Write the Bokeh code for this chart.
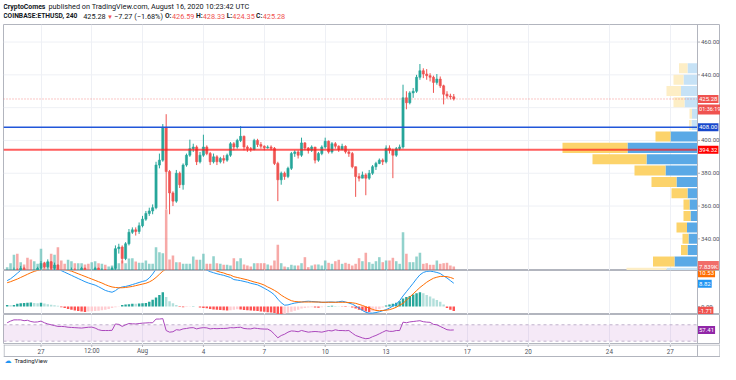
import pandas as pd
from bokeh.plotting import figure
from bokeh.models import (ColumnDataSource, Range1d, FixedTicker, Label, Span, BoxAnnotation)
from bokeh.layouts import column
from bokeh.embed import file_html
from bokeh.resources import INLINE
from bokeh.core.properties import value

FONT = "Roboto"

# ---------------- data (4h candles, COINBASE:ETHUSD) ----------------
start_time = "2020-07-25 08:00"
first_open = 315
close = [317, 318, 321, 319, 322, 320, 318, 317, 319, 322,
         325, 323, 326, 322, 324, 320, 317, 316, 318, 321,
         318, 320, 322, 319, 318, 320, 322, 319, 321, 317,
         318, 322, 334, 335, 328, 337, 344, 345.5, 344.5, 348,
         352, 355.5, 357, 359, 385, 388, 408, 381, 368, 363,
         380, 373, 385, 391, 395, 396, 387, 391, 396, 392,
         387, 390, 387, 389, 388, 391, 398, 396, 400, 402.5,
         396, 395, 394.5, 400, 397.5, 396.5, 395.5, 396, 395.2, 386,
         376, 380, 378, 383, 392, 393, 391, 398.5, 395.4, 394,
         396, 388, 392, 396, 399.5, 393, 398, 396.5, 394.5, 396.4,
         393, 392, 384, 378, 377, 379, 377, 380, 384, 386,
         388, 387, 395.4, 394, 391, 395, 396, 426, 423, 429,
         430, 438.5, 442.5, 440.5, 439.5, 438.5, 435.4, 437.4, 433.3, 428.2,
         427.1, 426.59, 425.28]
high = [318.5, 320, 322.5, 322, 323.5, 323, 321, 319, 320.5, 323,
        326.5, 326, 327.5, 326.5, 325.5, 324.5, 321, 318.5, 319.5, 322.5,
        322, 321, 323, 322.5, 320, 321, 323, 322.5, 322, 321.5,
        319.5, 323, 336, 337, 336, 338, 346, 347, 347, 350,
        354, 357, 359, 361, 387, 392, 410, 416, 382, 369,
        382, 381, 386, 392, 400.5, 398, 397, 393, 403.5, 397,
        393, 392, 391, 390, 391, 392, 399, 399, 401, 408.7,
        403, 397, 396, 401, 401, 399, 397, 397, 397, 396,
        387, 381, 381, 384, 393, 394, 394, 401.7, 399, 396,
        397, 396, 393, 397, 401.7, 400, 399, 399, 397, 398,
        397, 394, 393, 384, 380, 381, 380, 382, 385, 387,
        389, 389, 397, 397, 395, 396, 397.5, 434, 430, 430,
        432, 440, 446.6, 444, 443.5, 441, 439.5, 440.5, 439, 434,
        430, 428.5, 428.33]
low = [313, 316, 317, 317.5, 318, 319, 316.5, 315, 316, 318,
       321, 322, 322, 321, 321, 319, 315, 314, 315, 317,
       317, 317, 319, 318, 316, 317, 319, 318, 318, 316,
       316, 317, 320, 331, 325, 327, 336, 343, 342, 343,
       347, 351, 354, 355, 358, 383, 387, 358, 355, 360,
       362, 371, 370, 384, 390, 393, 385, 386, 390, 391,
       385, 386, 385, 386, 386, 387, 390, 394, 395, 399,
       394, 393, 393, 394, 396, 395, 394, 395, 394, 385,
       363, 373, 376, 377, 382, 390, 389, 390, 394, 392,
       393, 386, 387, 391, 395, 392, 392, 395, 393, 394,
       392, 390, 383, 365.6, 375, 377, 366.6, 376, 379, 382,
       385.5, 385, 386, 392, 377, 390, 394, 395, 419, 422,
       426, 429, 437, 438, 437, 436, 429, 434, 432, 422,
       425.5, 425, 424.35]
volume_k = [6.5, 14.3, 30.8, 32.7, 16.3, 11.8, 24.9, 21.6, 18.2, 13.1,
            42.5, 16.3, 16.3, 32.7, 30.8, 45.7, 19.6, 13.1, 21.0, 18.2,
            14.3, 14.3, 14.3, 11.8, 13.1, 16.3, 18.2, 14.3, 13.1, 11.2,
            7.8, 9.8, 42.5, 14.3, 19.6, 14.3, 23.5, 24.1, 17.6, 15.1,
            15.1, 19.6, 13.1, 13.1, 45.7, 35.9, 33.9, 119.6, 21.6, 29.4,
            16.3, 16.3, 13.1, 13.1, 13.1, 27.4, 21.0, 21.0, 32.7, 13.1,
            13.1, 28.0, 14.3, 13.1, 11.2, 11.2, 9.8, 24.1, 18.2, 24.1,
            11.8, 9.8, 7.8, 14.3, 14.3, 14.3, 14.3, 11.8, 9.8, 19.6,
            50.4, 14.3, 7.8, 6.5, 11.2, 9.8, 9.8, 14.3, 26.1, 6.5,
            9.8, 11.8, 11.8, 9.8, 19.6, 15.1, 13.1, 18.2, 21.0, 13.1,
            15.1, 13.1, 9.8, 13.1, 24.1, 18.2, 34.7, 16.3, 13.1, 18.2,
            26.1, 16.3, 19.6, 19.6, 24.9, 18.2, 13.1, 75.1, 32.7, 16.3,
            16.3, 27.4, 34.7, 13.1, 14.3, 11.2, 11.2, 19.6, 13.1, 14.3,
            15.1, 9.8, 7.839]
macd_line = [9.8, 10.5, 11.5, 12.6, 13.7, 14.5, 15.2, 15.7, 16.0, 16.2,
             16.4, 16.4, 16.3, 16.1, 15.6, 14.8, 13.6, 13.0, 12.4, 11.8,
             11.2, 10.6, 10.0, 9.4, 8.9, 8.5, 8.1, 7.5, 6.8, 6.1,
             5.7, 5.4, 6.0, 7.0, 7.4, 7.6, 7.9, 8.3, 8.7, 9.1,
             9.5, 9.8, 10.8, 12.3, 14.2, 15.5, 16.5, 16.5, 16.8, 16.9,
             17.0, 16.9, 16.7, 16.5, 16.3, 16.0, 15.6, 15.0, 14.4, 13.8,
             13.2, 12.8, 12.4, 12.1, 11.8, 11.4, 11.0, 10.2, 10.0, 9.8,
             9.5, 9.2, 8.8, 8.5, 8.2, 7.6, 6.9, 6.2, 5.4, 4.4,
             2.8, 1.4, 0.5, 0.6, 1.0, 1.3, 1.5, 1.7, 1.9, 2.0,
             1.9, 1.8, 1.7, 1.6, 1.6, 1.7, 1.7, 1.6, 1.8, 2.0,
             1.7, 1.3, 0.9, 0.2, -0.6, -1.5, -2.2, -2.5, -2.5, -2.3,
             -2.0, -1.6, -1.2, -0.6, 0.2, 0.9, 2.2, 4.0, 5.6, 7.2,
             8.8, 10.5, 12.0, 12.9, 13.3, 13.4, 13.2, 12.9, 12.5, 11.6,
             10.8, 9.8, 8.82]
signal_line = [9.0, 9.4, 9.9, 10.4, 11.0, 11.6, 12.2, 12.8, 13.3, 13.7,
               14.0, 14.3, 14.5, 14.6, 14.6, 14.5, 14.3, 14.0, 13.7, 13.4,
               12.9, 12.4, 11.9, 11.4, 10.9, 10.4, 9.9, 9.4, 8.9, 8.3,
               7.8, 7.4, 7.2, 7.1, 7.1, 7.2, 7.4, 7.6, 7.9, 8.2,
               8.5, 8.8, 9.3, 10.0, 11.0, 12.2, 13.4, 14.2, 14.8, 15.3,
               15.6, 15.8, 15.9, 16.0, 16.0, 16.0, 15.8, 15.6, 15.2, 14.8,
               14.4, 13.9, 13.4, 13.0, 12.7, 12.2, 11.9, 11.3, 11.0, 10.7,
               10.4, 10.1, 9.7, 9.3, 9.0, 8.6, 8.1, 7.4, 6.8, 6.1,
               5.3, 4.3, 3.5, 2.8, 2.2, 1.9, 1.8, 1.7, 1.7, 1.7,
               1.7, 1.7, 1.7, 1.6, 1.6, 1.6, 1.6, 1.6, 1.6, 1.6,
               1.6, 1.5, 1.4, 1.2, 0.8, 0.4, -0.1, -0.6, -1.1, -1.5,
               -1.6, -1.5, -1.4, -1.2, -0.8, -0.3, 0.5, 1.2, 2.4, 3.6,
               4.8, 6.0, 7.2, 8.2, 9.2, 10.0, 10.7, 11.1, 11.4, 11.4,
               11.3, 11.0, 10.53]
histogram = [0.6, 0.5, 0.6, 1.0, 1.2, 1.3, 1.4, 1.5, 1.3, 1.2,
             1.4, 1.1, 0.9, 0.7, 0.5, 0.3, -0.3, -0.6, -0.9, -1.2,
             -1.5, -1.7, -1.9, -2.1, -1.9, -1.8, -1.7, -1.6, -1.4, -1.2,
             -0.9, -0.6, -0.3, -0.1, 0.6, 0.8, 0.9, 1.0, 1.0, 1.1,
             1.2, 1.3, 1.8, 2.6, 3.4, 4.4, 5.4, 3.6, 2.0, 1.2,
             0.6, -0.2, -0.3, -0.2, -0.1, 0.1, 0.0, -0.4, -0.6, -0.7,
             -0.9, -1.1, -1.2, -1.3, -1.4, -1.5, -1.4, -1.2, -1.0, -1.1,
             -1.3, -1.4, -1.5, -1.6, -1.7, -1.9, -2.0, -2.2, -2.3, -2.5,
             -2.8, -2.9, -2.7, -2.4, -2.0, -1.6, -1.2, -0.8, -0.6, -0.4,
             -0.3, -0.4, -0.5, -0.3, -0.1, 0.2, 0.3, 0.2, 0.1, -0.1,
             -0.2, -0.1, -0.4, -0.8, -1.2, -1.5, -1.9, -2.1, -1.8, -1.4,
             -0.9, -0.4, 0.4, 0.8, 1.0, 1.4, 2.0, 3.0, 3.6, 4.0,
             4.5, 5.0, 5.4, 5.0, 4.4, 3.8, 3.0, 2.5, 1.8, 0.8,
             -0.6, -1.2, -1.71]
rsi = [75, 79, 82, 82, 82, 80, 81, 78, 76.5, 77,
       79, 75, 72, 70, 68, 66, 66, 65.5, 64, 63.5,
       63, 62.5, 62, 63, 64, 64.3, 62, 58, 56, 56,
       56, 56.5, 72, 71, 66, 70, 73, 72.4, 72, 73,
       74, 74.5, 75, 75, 84, 84, 85, 56, 52, 53,
       58, 57, 60, 61, 62.6, 63, 60, 62, 63, 62.5,
       60, 61, 60.5, 61, 61, 61.5, 63, 62.6, 63.5, 64,
       61, 60.2, 60, 62, 61, 60, 59.5, 59.5, 55, 47,
       38.2, 43.8, 47, 52, 55, 54.4, 53, 56.1, 54, 52,
       53, 53.6, 53, 52, 54, 56, 55, 57.8, 56, 56,
       55.5, 56, 49.6, 44, 41, 38, 36, 37, 41, 44,
       48, 52, 56, 54, 54, 56, 56, 76.4, 75, 77,
       78, 79, 80, 77.5, 76.5, 76, 71, 70, 66, 62,
       58, 57, 57.41]

# visible-range volume profile (row bottoms, up / down volume in K)
vp_low = [315.8, 322.7, 329.7, 336.6, 343.5, 350.4, 357.4, 364.3, 371.2, 378.2,
          385.1, 392.0, 399.0, 405.9, 412.8, 419.8, 426.7, 433.6, 440.6]
vp_up = [62, 46, 20, 18, 21, 14, 16, 20, 42, 64, 102, 140, 54, 12, 11, 26, 33, 28, 20]
vp_down = [80, 43, 13, 12, 21, 14, 12, 32, 50, 62, 108, 130, 30, 5, 5, 22, 29, 20, 17]
vp_value_area = [False, True, True, True, True, True, True, True, True, True,
                 True, True, True, False, False, False, False, False, False]
vp_row = 6.94

tick_days = [0, 2.5, 5, 8, 11, 14, 17, 21, 24, 28, 31]
tick_labels = ["27", "12:00", "Aug", "4", "7", "10", "13", "17", "20", "24", "27"]
price_ticks = [340, 360, 380, 400, 440, 460]
price_grid = [340, 360, 380, 400, 420, 440, 460]

last_price = 425.28
level_blue = 408.00
level_red = 394.32

# ---------------- derived ----------------
times = pd.date_range(start_time, periods=len(close), freq="4h")
days = ((times - pd.Timestamp("2020-07-27")) / pd.Timedelta(days=1)).tolist()
opens = [first_open] + close[:-1]
GREEN, RED = "#26a69a", "#ef5350"
ccol = [GREEN if c >= o else RED for c, o in zip(close, opens)]
hcol = []
prev = None
for h in histogram:
    if h >= 0:
        hcol.append("#26a69a" if (prev is None or h > prev) else "#b2dfdb")
    else:
        hcol.append("#ff5252" if (prev is None or h < prev) else "#ffcdd2")
    prev = h

src = ColumnDataSource(dict(
    x=days, o=opens, h=high, l=low, c=close,
    top=[max(a, b) for a, b in zip(opens, close)],
    bot=[min(a, b) for a, b in zip(opens, close)],
    col=ccol, vol=volume_k, macd=macd_line, sig=signal_line,
    hist=histogram, hcol=hcol, rsi=rsi))

# ---------------- layout constants ----------------
W = 720
LB = 3                        # left edge of the chart frame
FRAME_W = W - LB
FW = 694                      # frame px of the price-scale boundary
PX_DAY = 20.3
XS = (LB - 40.5) / PX_DAY     # Jul 27 sits 40.5 px from the left
XE = XS + FW / PX_DAY
XEND = XS + FRAME_W / PX_DAY
HDR_H, MAIN_H, MACD_H, RSI_H, FOOT_H = 24, 246, 44, 30, 20
PY0, PY1 = 320.7, 470.7
PPU = MAIN_H / (PY1 - PY0)
BORDER = "#b2b5be"
GRID = "#eef0f5"
LBL = "#50535e"
xr = Range1d(XS, XEND)
TICK_LEN = 2.5 / PX_DAY
TAG_PAD = dict(left=1, right=1, top=2, bottom=2)


def mk(h, yr, outline=BORDER, grid=True):
    p = figure(width=W, height=h, x_range=xr, y_range=yr,
               output_backend="svg", toolbar_location=None,
               x_axis_location=None, y_axis_location=None,
               min_border_left=LB, min_border_right=0,
               min_border_top=0, min_border_bottom=0,
               background_fill_color="white", border_fill_color="white",
               outline_line_color=outline, outline_line_width=1)
    p.ygrid.grid_line_color = None
    if grid:
        p.xgrid.ticker = FixedTicker(ticks=tick_days)
        p.xgrid.grid_line_color = GRID
    else:
        p.xgrid.grid_line_color = None
    return p


def scale_divider(p):
    p.add_layout(Span(location=XE, dimension="height", line_color=BORDER, line_width=1))


def scale_ticks(p, ticks, fmt="{:.2f}"):
    p.segment(x0=[XE] * len(ticks), x1=[XE + TICK_LEN] * len(ticks), y0=ticks, y1=ticks,
              line_color=BORDER, line_width=1)
    p.text(x=[XE] * len(ticks), y=ticks, text=[fmt.format(t) for t in ticks],
           x_offset=3.5, text_font=value(FONT), text_font_size="6px", text_color=LBL,
           text_align="left", text_baseline="middle")


def tag(p, y, text, bg, alpha=1.0, size="6px", **kw):
    p.add_layout(Label(x=FW + 0.5, y=y, x_units="screen", y_units="data", text=text,
                       text_color="white", text_font=FONT, text_font_size=size,
                       text_baseline="middle", text_align="left",
                       background_fill_color=bg, background_fill_alpha=alpha,
                       padding=TAG_PAD, **kw))


# ---------------- header ----------------
hdr = mk(HDR_H, Range1d(0, 1), outline=None, grid=False)


def htext(x, y, text, color="#131722", bold=False, size="7.3px"):
    hdr.add_layout(Label(x=x - LB, y=y, x_units="screen", y_units="screen", text=text,
                         text_color=color, text_font=FONT, text_font_size=size,
                         text_font_style="bold" if bold else "normal",
                         text_baseline="middle", text_align="left"))


L1, L2 = HDR_H - 6, HDR_H - 15.7
htext(2.7, L1, "CryptoComes", bold=True, size="6.9px")
htext(48, L1, "published on TradingView.com, August 16, 2020 10:23:42 UTC", size="7.3px")
htext(2.7, L2, "COINBASE:ETHUSD, 240", bold=True, size="6.7px")
htext(82.7, L2, "425.28")
htext(106.5, L2, "\u25bc", color=RED, size="6px")
htext(113.5, L2, "\u22127.27 (\u22121.68%)")
htext(164.5, L2, "O:", bold=True, size="6.7px")
htext(171.5, L2, "426.59", color=RED)
htext(195.5, L2, "H:", bold=True, size="6.7px")
htext(202.2, L2, "428.33", color=RED)
htext(226.2, L2, "L:", bold=True, size="6.7px")
htext(231.8, L2, "424.35", color=RED)
htext(255.6, L2, "C:", bold=True, size="6.7px")
htext(262.2, L2, "425.28", color=RED)

# ---------------- main pane ----------------
main = mk(MAIN_H, Range1d(PY0, PY1))
main.extra_y_ranges = {"vol": Range1d(0, 482)}
main.extra_x_ranges = {"vp": Range1d(-2 * FW, 2 * (FRAME_W - FW))}
main.segment(x0=[XS] * len(price_grid), x1=[XE] * len(price_grid), y0=price_grid,
             y1=price_grid, line_color=GRID, line_width=1)

main.vbar(x="x", top="vol", bottom=0, width=0.125, fill_color="col", fill_alpha=0.5,
          line_color=None, y_range_name="vol", source=src)
main.segment(x0="x", y0="l", x1="x", y1="h", line_color="col", line_width=1, source=src)
main.vbar(x="x", top="top", bottom="bot", width=0.105, fill_color="col",
          line_color="col", line_width=0.6, source=src)

vp_mid = [lo + vp_row / 2 for lo in vp_low]
blue_c = ["#5aa9e6" if va else "#c6e2f6" for va in vp_value_area]
yel_c = ["#fcd36b" if va else "#fdeec6" for va in vp_value_area]
main.hbar(y=vp_mid, left=[-u for u in vp_up], right=0, height=vp_row * 0.88,
          fill_color=blue_c, line_color=None, x_range_name="vp")
main.hbar(y=vp_mid, left=[-(u + d) for u, d in zip(vp_up, vp_down)],
          right=[-u for u in vp_up], height=vp_row * 0.88,
          fill_color=yel_c, line_color=None, x_range_name="vp")

main.segment(x0=[XS], x1=[XE], y0=[last_price], y1=[last_price], line_color=RED,
             line_alpha=0.65, line_dash="1 2", line_width=1)
main.segment(x0=[XS], x1=[XE], y0=[level_blue], y1=[level_blue], line_color="#2156d9",
             line_width=1.5)
main.segment(x0=[XS], x1=[XE], y0=[level_red], y1=[level_red], line_color="#ff1a1a",
             line_alpha=0.7, line_width=2.2)

scale_divider(main)
scale_ticks(main, price_ticks)
tag(main, last_price, "425.28", RED)
tag(main, last_price - 10.4 / PPU, "01:36:19", RED, size="5.6px")
tag(main, level_blue, "408.00", "#1848cc")
tag(main, level_red, "394.32", "#ff0000")
tag(main, volume_k[-1], "7.839K", RED, alpha=0.85, y_range_name="vol")

# ---------------- MACD pane ----------------
macd = mk(MACD_H, Range1d(-3.03, 13.64))
macd.vbar(x="x", top="hist", bottom=0, width=0.12, fill_color="hcol",
          line_color=None, source=src)
macd.line(x="x", y="macd", line_color="#2196f3", line_width=1, source=src)
macd.line(x="x", y="sig", line_color="#ff6d00", line_width=1, source=src)
scale_divider(macd)
scale_ticks(macd, [0])
tag(macd, 12.6, "10.53", "#ff6d00")
tag(macd, 8.6, "8.82", "#2196f3")
tag(macd, -1.6, "-1.71", RED)

# ---------------- RSI pane ----------------
rp = mk(RSI_H, Range1d(21.9, 95.1))
rp.add_layout(BoxAnnotation(left=XS, right=XE, bottom=30, top=70, fill_color="#9c27b0",
                            fill_alpha=0.1, line_color=None, level="underlay"))
rp.segment(x0=[XS, XS], x1=[XE, XE], y0=[70, 30], y1=[70, 30], line_color="#bfb1cc",
           line_dash="3 3", line_width=1)
rp.line(x="x", y="rsi", line_color="#ab47bc", line_width=1, source=src)
scale_divider(rp)
tag(rp, rsi[-1], "57.41", "#9127a8")

# ---------------- time axis + logo (y in px from the bottom of the page) ----------------
ft = mk(FOOT_H, Range1d(0, FOOT_H), outline=None, grid=False)
AX_BOT, AX_TOP = 8, FOOT_H
ft.segment(x0=[XS, XS + 0.03, XE, XEND - 0.03], x1=[XEND, XS + 0.03, XE, XEND - 0.03],
           y0=[AX_BOT, AX_BOT, AX_BOT, AX_BOT], y1=[AX_BOT, AX_TOP, AX_TOP, AX_TOP],
           line_color=BORDER, line_width=1)
ft.segment(x0=[XS], x1=[XEND], y0=[AX_TOP - 0.5], y1=[AX_TOP - 0.5],
           line_color=BORDER, line_width=1)
ft.segment(x0=tick_days, x1=tick_days, y0=[AX_TOP] * len(tick_days),
           y1=[AX_TOP - 2.5] * len(tick_days), line_color=BORDER, line_width=1)
ft.text(x=tick_days, y=[AX_TOP - 6.5] * len(tick_days), text=tick_labels,
        text_font=value(FONT), text_font_size="6.3px", text_color=LBL,
        text_align="center", text_baseline="middle")
ft.text(x=[XS + 1 / PX_DAY], y=[3.8], text=["\u2601"], text_font=value("DejaVu Sans"),
        text_font_size="7px", text_color="#2196f3", text_align="left",
        text_baseline="middle")
ft.text(x=[XS + 11 / PX_DAY], y=[3.8], text=["TradingView"], text_font=value(FONT),
        text_font_size="6px", text_color="#131722", text_align="left",
        text_baseline="middle")

layout = column(hdr, main, macd, rp, ft)
open("out.html", "w").write(file_html(layout, INLINE))
